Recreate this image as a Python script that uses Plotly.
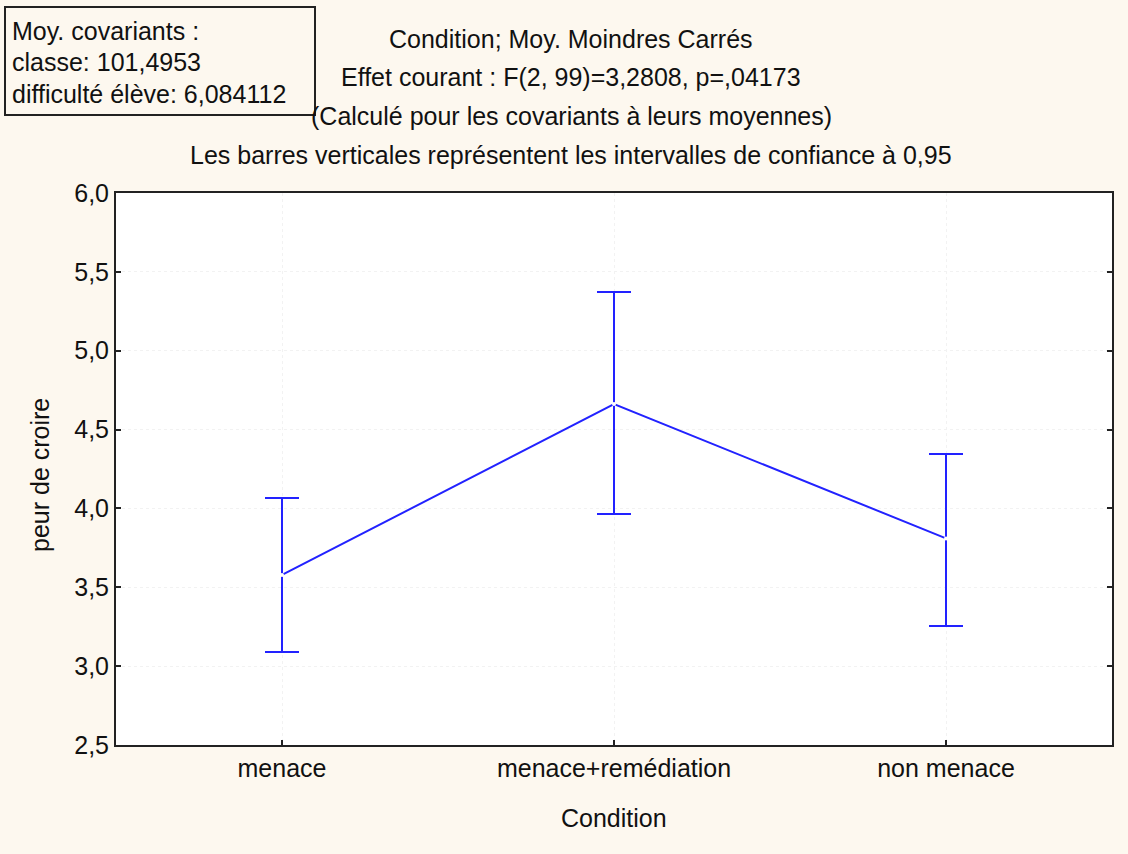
import plotly.graph_objects as go

categories = ["menace", "menace+remédiation", "non menace"]
means = [3.578, 4.662, 3.81]
upper = [4.066, 5.373, 4.345]
lower = [3.09, 3.965, 3.255]

err_plus = [u - m for u, m in zip(upper, means)]
err_minus = [m - l for m, l in zip(means, lower)]

BLUE = "#2222ff"
BG = "#fdf8ef"
FONT = "Liberation Sans, Arial, sans-serif"
FS = 25

W, H = 1128, 854
PL, PR, PT, PB = 116, 1112, 193, 745  # plot area in pixels


def px(xpix):
    return (xpix - PL) / (PR - PL)


def py(ypix):
    return (PB - ypix) / (PB - PT)


fig = go.Figure()
fig.add_trace(go.Scatter(
    x=[0, 1, 2], y=means, mode="lines+markers",
    line=dict(color=BLUE, width=2),
    marker=dict(color="white", size=4, line=dict(width=0)),
    error_y=dict(type="data", symmetric=False, array=err_plus, arrayminus=err_minus,
                 color=BLUE, thickness=2, width=17),
    showlegend=False, hoverinfo="skip",
))

title_lines = [
    ("Condition; Moy. Moindres Carrés", 39),
    ("Effet courant : F(2, 99)=3,2808, p=,04173", 77),
    ("(Calculé pour les covariants à leurs moyennes)", 116),
    ("Les barres verticales représentent les intervalles de confiance à 0,95", 155),
]
annotations = []
for txt, yp in title_lines:
    annotations.append(dict(text=txt, xref="paper", yref="paper", x=px(571), y=py(yp),
                            xanchor="center", yanchor="middle", showarrow=False,
                            font=dict(family=FONT, size=FS, color="#111")))

box_lines = ["Moy. covariants :", "classe: 101,4953", "difficulté élève: 6,084112"]
box_y = [31, 62, 94]
for txt, yp in zip(box_lines, box_y):
    annotations.append(dict(text=txt, xref="paper", yref="paper", x=px(10), y=py(yp),
                            xanchor="left", yanchor="middle", showarrow=False,
                            font=dict(family=FONT, size=FS, color="#111")))

annotations.append(dict(text="peur de croire", xref="paper", yref="paper", x=px(40), y=py(475),
                        xanchor="center", yanchor="middle", textangle=-90, showarrow=False,
                        font=dict(family=FONT, size=FS, color="#111")))
annotations.append(dict(text="Condition", xref="paper", yref="paper", x=px(614), y=py(818),
                        xanchor="center", yanchor="middle", showarrow=False,
                        font=dict(family=FONT, size=FS, color="#111")))

fig.update_layout(
    width=W, height=H,
    margin=dict(l=PL, r=W - PR, t=PT, b=H - PB),
    paper_bgcolor=BG, plot_bgcolor="white",
    separators=",.",
    font=dict(family=FONT, size=FS, color="#111"),
    annotations=annotations,
    shapes=[dict(type="rect", xref="paper", yref="paper",
                 x0=px(5), x1=px(315), y0=py(115), y1=py(7),
                 line=dict(color="#222", width=2), fillcolor="rgba(0,0,0,0)")],
    xaxis=dict(
        range=[-0.5, 2.5], tickvals=[0, 1, 2], ticktext=categories,
        showline=True, linecolor="#222", linewidth=2, mirror=True,
        ticks="inside", ticklen=5, tickcolor="#222", tickwidth=2,
        showgrid=True, gridcolor="#f2f2f2", griddash="dot", gridwidth=1,
        zeroline=False,
        tickfont=dict(family=FONT, size=FS),
    ),
    yaxis=dict(
        range=[2.5, 6.0], tickvals=[2.5, 3.0, 3.5, 4.0, 4.5, 5.0, 5.5, 6.0], tickformat=".1f",
        showline=True, linecolor="#222", linewidth=2, mirror="allticks",
        ticks="inside", ticklen=5, tickcolor="#222", tickwidth=2,
        showgrid=True, gridcolor="#f2f2f2", griddash="dot", gridwidth=1,
        zeroline=False,
        tickfont=dict(family=FONT, size=FS),
    ),
)

fig.write_html("out.html",
               config={"displayModeBar": False, "staticPlot": True},
               post_script="document.body.style.margin='0';document.body.style.overflow='hidden';")
